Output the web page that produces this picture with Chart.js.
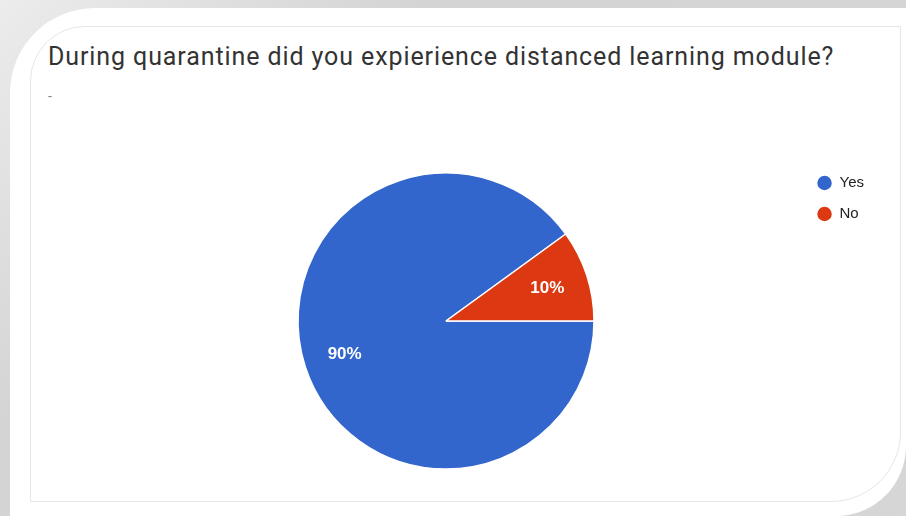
<!DOCTYPE html>
<html>
<head>
<meta charset="utf-8">
<script src="https://cdn.jsdelivr.net/npm/chart.js@4/dist/chart.umd.min.js"></script>
<style>
  html, body { margin: 0; padding: 0; }
  body {
    width: 906px; height: 516px; overflow: hidden; position: relative;
    background: linear-gradient(135deg, #ececec 0%, #d4d4d4 30%, #d6d6d6 100%);
  }
  .card {
    position: absolute; left: 10px; top: 8px; right: 0; bottom: 0;
    background: #fff;
    border-top-left-radius: 85px;
    border-bottom-right-radius: 70px;
  }
  .frame {
    position: absolute; left: 30px; top: 26px; width: 869px; height: 474px;
    border: 1px solid #e6e6e6;
    border-top-left-radius: 55px;
    border-bottom-right-radius: 70px;
  }
  .question {
    position: absolute; left: 48px; top: 42px;
    font-family: Roboto, sans-serif; font-size: 25px; line-height: 30px;
    letter-spacing: 0.9px;
    color: #333; white-space: nowrap;
  }
  .count {
    position: absolute; left: 48px; top: 88px;
    font-family: Roboto, sans-serif; font-size: 14px; color: #888;
  }
  #pie { position: absolute; left: 0; top: 0; }
</style>
</head>
<body>
<div class="card"></div>
<div class="frame"></div>
<div class="question">During quarantine did you expierience distanced learning module?</div>
<div class="count">-</div>
<canvas id="pie" width="906" height="516"></canvas>
<script>
const answers = ['Yes', 'No'];
const shares = [90, 10];
const sliceColors = ['#3366cc', '#dc3912'];

// percentage text inside each slice
const sliceLabels = {
  id: 'sliceLabels',
  afterDatasetsDraw(chart) {
    const ctx = chart.ctx;
    const arcs = chart.getDatasetMeta(0).data;
    ctx.save();
    ctx.font = 'bold 17px "Liberation Sans", Arial, sans-serif';
    ctx.fillStyle = '#fff';
    ctx.textAlign = 'center';
    ctx.textBaseline = 'middle';
    arcs.forEach((arc, i) => {
      const mid = (arc.startAngle + arc.endAngle) / 2;
      const r = arc.outerRadius * 0.72;
      ctx.fillText(shares[i] + '%', arc.x + Math.cos(mid) * r, arc.y + Math.sin(mid) * r);
    });
    ctx.restore();
  }
};

new Chart(document.getElementById('pie'), {
  type: 'pie',
  data: {
    labels: answers,
    datasets: [{
      data: shares,
      backgroundColor: sliceColors,
      borderColor: '#fff',
      borderWidth: 1.5,
      radius: 148
    }]
  },
  options: {
    responsive: false,
    animation: false,
    rotation: 90,
    layout: { padding: { top: 159.5, bottom: 33.5, left: 91, right: 32 } },
    plugins: {
      tooltip: { enabled: false },
      legend: {
        position: 'right',
        align: 'start',
        labels: {
          usePointStyle: true,
          pointStyle: 'circle',
          boxWidth: 16,
          boxHeight: 11.3,
          padding: 16,
          color: '#222',
          font: { family: '"Liberation Sans", Arial, sans-serif', size: 15 }
        }
      }
    }
  },
  plugins: [sliceLabels]
});
</script>
</body>
</html>
